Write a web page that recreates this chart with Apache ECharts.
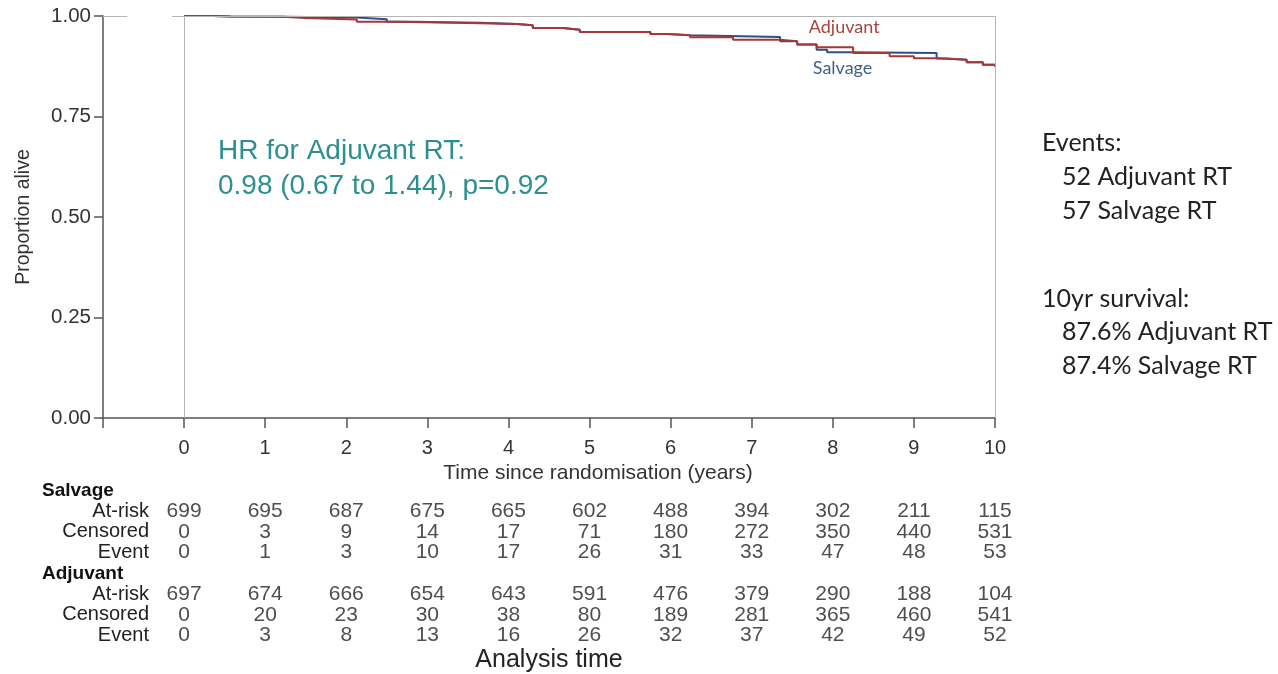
<!DOCTYPE html>
<html>
<head>
<meta charset="utf-8">
<script src="https://cdn.jsdelivr.net/npm/echarts@6/dist/echarts.min.js"></script>
<style>
html, body { margin: 0; padding: 0; background: #fff; }
#chart { width: 1278px; height: 674px; }
</style>
</head>
<body>
<div id="chart"></div>
<script>
// step points of the KM curves (years, proportion alive)
var salvageTime = [0, 0.36, 0.57, 1.22, 2.13, 2.5, 2.83, 3.65, 4.1, 4.3, 4.67, 4.88, 5.75, 5.96, 6.24, 7.35, 7.56, 7.8, 7.93, 8.25, 9.28, 9.4, 9.65, 9.85, 10];
var salvageSurv = [1.0, 0.999, 0.998, 0.9965, 0.992, 0.986, 0.983, 0.98, 0.977, 0.97, 0.966, 0.96, 0.955, 0.952, 0.948, 0.937, 0.929, 0.916, 0.91, 0.908, 0.894, 0.891, 0.885, 0.879, 0.874];
var adjuvantTime = [0, 0.36, 0.57, 1.22, 1.49, 2.13, 2.63, 3.65, 4.1, 4.3, 4.67, 4.88, 5.75, 5.96, 6.24, 6.77, 7.35, 7.56, 7.8, 8.25, 8.7, 9.0, 9.3, 9.65, 9.85, 10];
var adjuvantSurv = [1.0, 0.999, 0.998, 0.995, 0.991, 0.986, 0.982, 0.98, 0.977, 0.97, 0.966, 0.96, 0.955, 0.952, 0.947, 0.941, 0.937, 0.929, 0.922, 0.908, 0.9, 0.895, 0.891, 0.885, 0.879, 0.876];

// number-at-risk table
var tableYears = [0, 1, 2, 3, 4, 5, 6, 7, 8, 9, 10];
var tableRowNames = ['Salvage', 'At-risk', 'Censored', 'Event', 'Adjuvant', 'At-risk', 'Censored', 'Event'];
var salvageAtRisk = [699, 695, 687, 675, 665, 602, 488, 394, 302, 211, 115];
var salvageCensored = [0, 3, 9, 14, 17, 71, 180, 272, 350, 440, 531];
var salvageEvent = [0, 1, 3, 10, 17, 26, 31, 33, 47, 48, 53];
var adjuvantAtRisk = [697, 674, 666, 654, 643, 591, 476, 379, 290, 188, 104];
var adjuvantCensored = [0, 20, 23, 30, 38, 80, 189, 281, 365, 460, 541];
var adjuvantEvent = [0, 3, 8, 13, 16, 26, 32, 37, 42, 49, 52];

// side notes
var eventNotes = ['52 Adjuvant RT', '57 Salvage RT'];
var survivalNotes = ['87.6% Adjuvant RT', '87.4% Salvage RT'];

var sansFont = '"Liberation Sans", Arial, sans-serif';
var noteFont = 'Lato, "Open Sans", sans-serif';
var axisColor = '#555';
var boxGray = '#b5b5b5';

var myChart = echarts.init(document.getElementById('chart'));

function pairs(xs, ys) {
    return xs.map(function (x, i) { return [x, ys[i]]; });
}

// one scatter series per table row, value shown as label
function tableRow(rowIndex, values) {
    return {
        type: 'scatter',
        xAxisIndex: 1,
        yAxisIndex: 1,
        symbolSize: 0,
        silent: true,
        data: tableYears.map(function (yr, i) { return [yr, rowIndex, values[i]]; }),
        label: {
            show: true,
            position: 'inside',
            formatter: function (p) { return p.value[2]; },
            fontFamily: sansFont,
            fontSize: 21,
            color: '#222'
        }
    };
}

function noteText(left, top, text, size) {
    return {
        type: 'text',
        left: left,
        top: top,
        style: { text: text, font: size + 'px ' + noteFont, fill: '#222' }
    };
}

var rowIds = tableRowNames.map(function (n, i) { return String(i); });

myChart.setOption({
    animation: false,
    grid: [
        { left: 103, right: 283, top: 16, height: 402 },
        { left: 103, right: 283, top: 480, height: 175 }
    ],
    xAxis: [{
        type: 'value',
        min: -1,
        max: 10,
        interval: 1,
        axisLine: { onZero: false, lineStyle: { color: axisColor, width: 1.5 } },
        axisTick: { length: 10, lineStyle: { color: axisColor, width: 1.5 } },
        splitLine: { show: false },
        axisLabel: {
            formatter: function (v) { return v < 0 ? '' : v; },
            fontFamily: sansFont,
            fontSize: 20,
            color: '#333',
            margin: 20
        },
        name: 'Time since randomisation (years)',
        nameLocation: 'middle',
        nameGap: 37,
        nameTextStyle: { fontFamily: sansFont, fontSize: 21, color: '#333', padding: [0, 0, 0, 98] }
    }, {
        type: 'value',
        gridIndex: 1,
        min: -1,
        max: 10,
        interval: 1,
        axisLine: { show: false },
        axisTick: { show: false },
        axisLabel: { show: false },
        splitLine: { show: false },
        name: 'Analysis time',
        nameLocation: 'middle',
        nameGap: 2,
        nameTextStyle: { fontFamily: sansFont, fontSize: 25, color: '#222' }
    }],
    yAxis: [{
        type: 'value',
        min: 0,
        max: 1,
        interval: 0.25,
        axisLine: { show: true, onZero: false, lineStyle: { color: axisColor, width: 1.5 } },
        axisTick: { show: true, length: 9, lineStyle: { color: axisColor, width: 1.5 } },
        splitLine: { show: false },
        axisLabel: {
            formatter: function (v) { return v.toFixed(2); },
            fontFamily: sansFont,
            fontSize: 20.5,
            color: '#333',
            margin: 12
        },
        name: 'Proportion alive',
        nameLocation: 'middle',
        nameGap: 69,
        nameTextStyle: { fontFamily: sansFont, fontSize: 19.5, color: '#333' }
    }, {
        type: 'category',
        gridIndex: 1,
        position: 'left',
        inverse: true,
        data: rowIds,
        axisLine: { show: false },
        axisTick: { show: false },
        axisLabel: {
            interval: 0,
            margin: -46,
            align: 'right',
            formatter: function (v, i) { return (i === 0 || i === 4) ? '' : tableRowNames[i]; },
            fontFamily: sansFont,
            fontSize: 20,
            color: '#222'
        }
    }, {
        type: 'category',
        gridIndex: 1,
        position: 'left',
        inverse: true,
        data: rowIds,
        axisLine: { show: false },
        axisTick: { show: false },
        axisLabel: {
            interval: 0,
            margin: 61,
            align: 'left',
            formatter: function (v, i) { return (i === 0 || i === 4) ? tableRowNames[i] : ''; },
            fontFamily: sansFont,
            fontSize: 19,
            fontWeight: 'bold',
            color: '#111'
        }
    }],
    graphic: [{
        type: 'text',
        left: 218,
        top: 134,
        style: {
            text: 'HR for Adjuvant RT:\n0.98 (0.67 to 1.44), p=0.92',
            font: '28px ' + sansFont,
            lineHeight: 35,
            fill: '#2f8f8f'
        }
    },
        noteText(1042, 130, 'Events:', 25),
        noteText(1062, 164, eventNotes[0], 25),
        noteText(1062, 198, eventNotes[1], 25),
        noteText(1042, 286, '10yr survival:', 25),
        noteText(1062, 319, survivalNotes[0], 25),
        noteText(1062, 353, survivalNotes[1], 25)
    ],
    series: [{
        name: 'Salvage',
        type: 'line',
        step: 'end',
        symbol: 'none',
        silent: true,
        data: pairs(salvageTime, salvageSurv),
        lineStyle: { color: '#2f5080', width: 2 },
        markLine: {
            silent: true,
            symbol: 'none',
            label: { show: false },
            lineStyle: { color: boxGray, width: 1, type: 'solid' },
            data: [
                { xAxis: 0 },
                { xAxis: 10 },
                [{ coord: [-1, 1] }, { coord: [-0.7, 1] }],
                [{ coord: [-0.15, 1] }, { coord: [10, 1] }]
            ]
        },
        markPoint: {
            symbol: 'circle',
            symbolSize: 0,
            data: [{ coord: [8.12, 0.871] }],
            label: {
                show: true,
                position: 'inside',
                formatter: 'Salvage',
                fontFamily: noteFont,
                fontSize: 18,
                color: '#3d5f8c'
            }
        },
        z: 3
    }, {
        name: 'Adjuvant',
        type: 'line',
        step: 'end',
        symbol: 'none',
        silent: true,
        data: pairs(adjuvantTime, adjuvantSurv),
        lineStyle: { color: '#a83838', width: 2 },
        markPoint: {
            symbol: 'circle',
            symbolSize: 0,
            data: [{ coord: [8.14, 0.973] }],
            label: {
                show: true,
                position: 'inside',
                formatter: 'Adjuvant',
                fontFamily: noteFont,
                fontSize: 18,
                color: '#a8443c'
            }
        },
        z: 4
    },
        tableRow(1, salvageAtRisk),
        tableRow(2, salvageCensored),
        tableRow(3, salvageEvent),
        tableRow(5, adjuvantAtRisk),
        tableRow(6, adjuvantCensored),
        tableRow(7, adjuvantEvent)
    ]
});
</script>
</body>
</html>
